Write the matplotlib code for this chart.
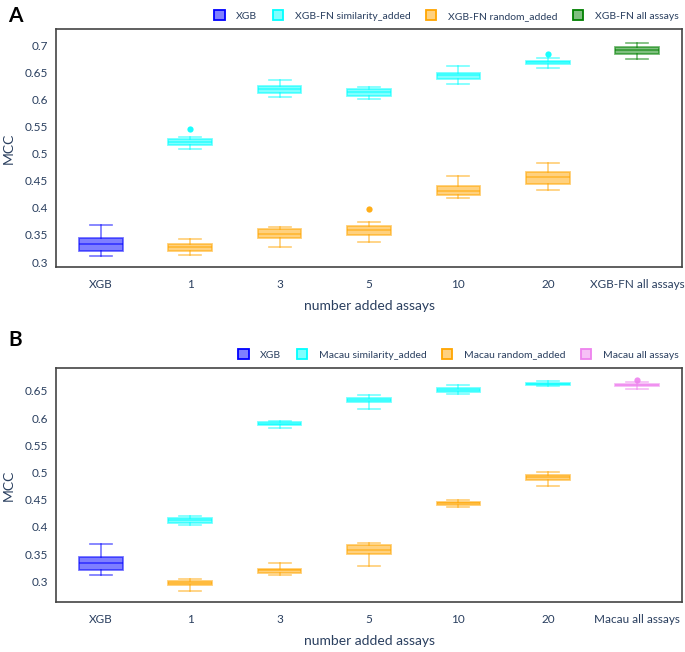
import matplotlib
matplotlib.use("Agg")
import matplotlib.pyplot as plt
from matplotlib.patches import Patch
from matplotlib.colors import to_rgba

plt.rcParams['font.family'] = ['Lato', 'DejaVu Sans']

cats_a = ['XGB', '1', '3', '5', '10', '20', 'XGB-FN all assays']
cats_b = ['XGB', '1', '3', '5', '10', '20', 'Macau all assays']

# box stats: (low whisker, q1, median, q3, high whisker)
xgb = [(0.311, 0.320, 0.333, 0.344, 0.369)]

a_sim = [(0.508, 0.516, 0.521, 0.526, 0.530),
         (0.605, 0.611, 0.618, 0.624, 0.636),
         (0.600, 0.606, 0.613, 0.618, 0.623),
         (0.629, 0.638, 0.644, 0.649, 0.662),
         (0.658, 0.665, 0.668, 0.671, 0.676)]
a_sim_out = [(1, 0.546), (5, 0.683)]
a_rand = [(0.312, 0.321, 0.327, 0.334, 0.343),
          (0.328, 0.345, 0.351, 0.360, 0.365),
          (0.337, 0.350, 0.359, 0.367, 0.373),
          (0.418, 0.424, 0.430, 0.441, 0.459),
          (0.433, 0.443, 0.456, 0.465, 0.483)]
a_rand_out = [(3, 0.398)]
a_all = [(0.675, 0.684, 0.691, 0.697, 0.704)]

b_sim = [(0.404, 0.408, 0.412, 0.416, 0.420),
         (0.581, 0.587, 0.589, 0.592, 0.595),
         (0.617, 0.629, 0.633, 0.637, 0.642),
         (0.644, 0.648, 0.652, 0.656, 0.661),
         (0.659, 0.661, 0.663, 0.665, 0.668)]
b_rand = [(0.283, 0.293, 0.297, 0.301, 0.304),
          (0.311, 0.316, 0.320, 0.323, 0.334),
          (0.329, 0.351, 0.358, 0.366, 0.370),
          (0.436, 0.440, 0.443, 0.446, 0.449),
          (0.476, 0.487, 0.491, 0.495, 0.500)]
b_all = [(0.654, 0.659, 0.661, 0.663, 0.666)]
b_all_out = [(6, 0.669)]

BLUE, CYAN, ORANGE, GREEN, VIOLET = '#0000ff', '#00ffff', '#ffa500', '#008000', '#ee82ee'
TXT = '#2a3f5f'


def draw(ax, stats, positions, color, outliers=()):
    rows = []
    for s in stats:
        lo, q1, med, q3, hi = s
        rows.append(dict(whislo=lo, q1=q1, med=med, q3=q3, whishi=hi, fliers=[]))
    line = to_rgba(color, 0.55)
    ax.bxp(rows, positions=positions, widths=0.49, patch_artist=True,
           showfliers=False,
           boxprops=dict(facecolor=to_rgba(color, 0.5), edgecolor=line, linewidth=1.3),
           medianprops=dict(color=line, linewidth=1.3),
           whiskerprops=dict(color=line, linewidth=1.2),
           capprops=dict(color=line, linewidth=1.2), capwidths=0.245)
    for x, y in outliers:
        ax.plot(x, y, 'o', color=color, ms=4.5, mec='none', alpha=0.9)


fig = plt.figure(figsize=(6.85, 6.52), dpi=100)
ax_a = fig.add_axes([0.0818, 0.5905, 0.9138, 0.365])
ax_b = fig.add_axes([0.0818, 0.0767, 0.9138, 0.359])

draw(ax_a, xgb, [0], BLUE)
draw(ax_a, a_sim, [1, 2, 3, 4, 5], CYAN, a_sim_out)
draw(ax_a, a_rand, [1, 2, 3, 4, 5], ORANGE, a_rand_out)
draw(ax_a, a_all, [6], GREEN)

draw(ax_b, xgb, [0], BLUE)
draw(ax_b, b_sim, [1, 2, 3, 4, 5], CYAN)
draw(ax_b, b_rand, [1, 2, 3, 4, 5], ORANGE)
draw(ax_b, b_all, [6], VIOLET, b_all_out)

panels = [(ax_a, cats_a, (0.2908, 0.7295), [0.3, 0.35, 0.4, 0.45, 0.5, 0.55, 0.6, 0.65, 0.7],
           ['XGB', 'XGB-FN similarity_added', 'XGB-FN random_added', 'XGB-FN all assays'],
           [BLUE, CYAN, ORANGE, GREEN]),
          (ax_b, cats_b, (0.262, 0.692), [0.3, 0.35, 0.4, 0.45, 0.5, 0.55, 0.6, 0.65],
           ['XGB', 'Macau similarity_added', 'Macau random_added', 'Macau all assays'],
           [BLUE, CYAN, ORANGE, VIOLET])]

for ax, cats, ylim, yt, names, cols in panels:
    ax.set_xlim(-0.5, 6.5)
    ax.set_ylim(*ylim)
    ax.set_xticks(range(len(cats)))
    ax.set_xticklabels(cats)
    ax.set_yticks(yt)
    ax.set_yticklabels([('%g' % v) for v in yt])
    ax.tick_params(length=0, labelsize=8.5, labelcolor=TXT)
    ax.tick_params(axis='x', pad=9)
    ax.tick_params(axis='y', pad=6)
    for sp in ax.spines.values():
        sp.set_color('#444444')
        sp.set_linewidth(1.2)
    ax.set_xlabel('number added assays', fontsize=10, color=TXT, labelpad=7)
    ax.set_ylabel('MCC', fontsize=10, color=TXT, labelpad=7)
    handles = [Patch(facecolor=to_rgba(c, 0.5), edgecolor=c, linewidth=1.3) for c in cols]
    ax.legend(handles, names, loc='lower right', bbox_to_anchor=(1.008, 1.0), ncol=4,
              frameon=False, fontsize=7.5, labelcolor=TXT, handlelength=1.0,
              handleheight=1.0, handletextpad=1.1, columnspacing=1.5, borderaxespad=0.4)

fig.text(0.012, 0.975, 'A', fontsize=15, fontweight='bold', va='center')
fig.text(0.012, 0.478, 'B', fontsize=15, fontweight='bold', va='center')

fig.savefig('out.png', dpi=100)
